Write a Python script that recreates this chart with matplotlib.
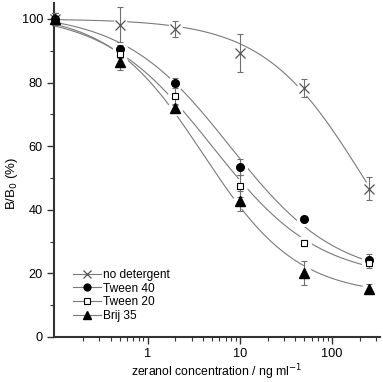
import numpy as np
import matplotlib
matplotlib.use("Agg")
import matplotlib.pyplot as plt
from matplotlib.ticker import LogLocator, NullFormatter, MultipleLocator

plt.rcParams['font.family'] = ['Liberation Sans', 'DejaVu Sans']

conc = [0.1, 0.5, 2, 10, 50, 250]

series = ["no detergent", "Tween 40", "Tween 20", "Brij 35"]
b_nodet = [100, 98.2, 96.8, 89.2, 78.3, 46.6]
b_tw40 = [100, 90.4, 79.8, 53.5, 37.1, 24.2]
b_tw20 = [100, 89.1, 75.9, 47.4, 29.5, 23.2]
b_brij = [100, 86.4, 71.9, 42.8, 20.2, 15.2]
err_nodet = [2, 5.5, 2.5, 6, 2.8, 3.6]
err_tw40 = [2, 1.5, 1.5, 2.5, 0.8, 2]
err_tw20 = [2, 1.5, 3, 3.5, 1, 1.5]
err_brij = [2, 2.5, 1.2, 3.2, 3.8, 1.5]

# logistic fit parameters: A1, A2, x0, p
fit_nodet = (100, 0, 220, 0.8)
fit_tw40 = (102, 18, 7.8, 0.75)
fit_tw20 = (102, 18, 5, 0.75)
fit_brij = (102, 13, 4, 0.85)

values = [b_nodet, b_tw40, b_tw20, b_brij]
errors = [err_nodet, err_tw40, err_tw20, err_brij]
fits = [fit_nodet, fit_tw40, fit_tw20, fit_brij]
styles = [dict(marker='x', color='#555555', mfc='none', ms=6.5, mew=0.9),
          dict(marker='o', color='black', mfc='black', ms=5.5, mew=1.0),
          dict(marker='s', color='black', mfc='white', ms=5, mew=0.8),
          dict(marker='^', color='black', mfc='black', ms=6.5, mew=1.0)]

fig = plt.figure(figsize=(3.83, 3.82), dpi=100)
ax = fig.add_axes([0.141, 0.118, 0.851, 0.874])

xs = np.logspace(-1, np.log10(250), 300)
for name, y, e, (a1, a2, x0, p), st in zip(series, values, errors, fits, styles):
    ax.plot(xs, a2 + (a1 - a2) / (1 + (xs / x0) ** p), color='#7a7a7a', lw=0.8, zorder=1)
    # white halo around the points, the line stops short of each marker
    ax.plot(conc[1:], y[1:], ls='none', marker='o', ms=10, mfc='white', mec='white', zorder=2)
    ax.errorbar(conc, y, yerr=e, fmt='none', ecolor='#6e6e6e', elinewidth=0.8,
                capsize=2.2, capthick=0.8, zorder=3, clip_on=False)
    ax.plot(conc, y, ls='none', marker=st['marker'], ms=st['ms'], mfc=st['mfc'],
            mec=st['color'], mew=st['mew'], zorder=4, clip_on=False)
    ax.plot([], [], color='#7a7a7a', lw=0.8, marker=st['marker'], ms=st['ms'] * 0.9,
            mfc=st['mfc'], mec=st['color'], mew=st['mew'], label=name)

ax.set_xscale('log')
ax.set_xlim(0.097, 330)
ax.set_ylim(0, 105)
ax.yaxis.set_major_locator(MultipleLocator(20))
ax.yaxis.set_minor_locator(MultipleLocator(10))
ax.xaxis.set_minor_locator(LogLocator(base=10, subs=np.arange(2, 10)))
ax.xaxis.set_minor_formatter(NullFormatter())
ax.set_xticks([1, 10, 100])
ax.set_xticklabels(['1', '10', '100'])

for s in ['top', 'right']:
    ax.spines[s].set_visible(False)
for s in ['left', 'bottom']:
    ax.spines[s].set_linewidth(1.5)
    ax.spines[s].set_color('#333333')
ax.tick_params(which='major', direction='out', length=5, width=1.0, labelsize=9.2,
               color='#333333', pad=3)
ax.tick_params(which='minor', direction='out', length=3, width=0.8, color='#333333')

ax.set_xlabel('zeranol concentration / ng ml$^{-1}$', fontsize=8.8, labelpad=1.5)
ax.set_ylabel('B/B$_0$ (%)', fontsize=9.5, labelpad=8)
ax.yaxis.set_label_coords(-0.105, 0.46)

ax.legend(loc='lower left', bbox_to_anchor=(0.045, 0.03), frameon=False, fontsize=8.6,
          handlelength=2.3, handletextpad=0.2, labelspacing=0.15, borderaxespad=0)

fig.savefig('out.png', dpi=100)
